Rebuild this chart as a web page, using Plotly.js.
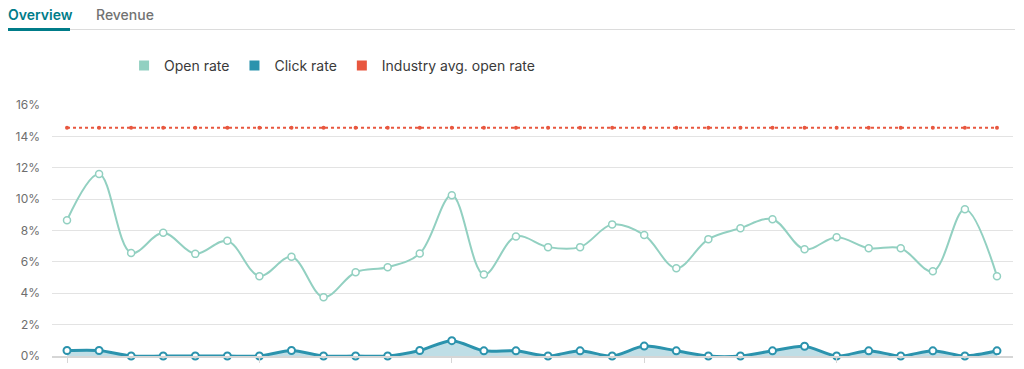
<!DOCTYPE html>
<html>
<head>
<meta charset="utf-8">
<script src="https://cdn.plot.ly/plotly-3.0.1.min.js"></script>
<style>
  html, body { margin: 0; padding: 0; background: #fff; width: 1024px; height: 369px; overflow: hidden; font-family: Inter, "Open Sans", sans-serif; }
  #chart { position: absolute; left: 0; top: 0; width: 1024px; height: 369px; }
  .tab { position: absolute; top: 6px; font-size: 14px; z-index: 5; }
  #tab1 { left: 8px; color: #007c89; font-weight: 600; }
  #tab2 { left: 96px; color: #727272; font-weight: 500; }
  #tabline { position: absolute; left: 8px; top: 29px; width: 1007px; height: 1px; background: #dcdcdc; z-index: 4; }
  #tabunder { position: absolute; left: 8px; top: 28px; width: 62px; height: 3px; background: #007c89; z-index: 5; }
</style>
</head>
<body>
<div id="chart"></div>
<div class="tab" id="tab1">Overview</div>
<div class="tab" id="tab2">Revenue</div>
<div id="tabline"></div>
<div id="tabunder"></div>
<script>
const campaigns = [1,2,3,4,5,6,7,8,9,10,11,12,13,14,15,16,17,18,19,20,21,22,23,24,25,26,27,28,29,30];
const openRate = [8.66,11.6,6.57,7.85,6.51,7.34,5.09,6.32,3.75,5.34,5.66,6.53,10.24,5.19,7.62,6.94,6.94,8.39,7.72,5.6,7.45,8.15,8.72,6.8,7.57,6.87,6.87,5.4,9.36,5.09];
const clickRate = [0.35,0.35,0,0,0,0,0,0.35,0,0,0,0.35,0.98,0.33,0.33,0,0.33,0,0.63,0.33,0,0,0.33,0.62,0,0.33,0,0.33,0,0.33];
const industryAvg = [14.55,14.55,14.55,14.55,14.55,14.55,14.55,14.55,14.55,14.55,14.55,14.55,14.55,14.55,14.55,14.55,14.55,14.55,14.55,14.55,14.55,14.55,14.55,14.55,14.55,14.55,14.55,14.55,14.55,14.55];
const seriesNames = ["Open rate", "Click rate", "Industry avg. open rate"];
const yTicks = [0,2,4,6,8,10,12,14,16];
const yTickText = ["0%","2%","4%","6%","8%","10%","12%","14%","16%"];
const xTickVals = [1,7,13,19,25];

const cOpen = "#92d0c1", cClick = "#2b93ad", cInd = "#e8573f";

const traces = [
  { x: campaigns, y: industryAvg, type: "scatter", mode: "lines+markers", name: seriesNames[2], showlegend: false,
    line: { color: cInd, width: 2, dash: "dot" }, marker: { color: cInd, size: 4 }, cliponaxis: false, hoverinfo: "skip" },
  { x: campaigns, y: openRate, type: "scatter", mode: "lines+markers", name: seriesNames[0], showlegend: false,
    line: { color: cOpen, width: 2, shape: "spline", smoothing: 1 },
    marker: { color: "#ffffff", size: 7, line: { color: cOpen, width: 1.5 } }, cliponaxis: false, hoverinfo: "skip" },
  { x: campaigns, y: clickRate, type: "scatter", mode: "lines+markers", name: seriesNames[1], showlegend: false,
    fill: "tozeroy", fillcolor: "rgba(43,147,173,0.3)",
    line: { color: cClick, width: 3, shape: "spline", smoothing: 0.8 },
    marker: { color: "#ffffff", size: 7, line: { color: cClick, width: 2 } }, cliponaxis: false, hoverinfo: "skip" },
  { x: [null], y: [null], type: "scatter", mode: "markers", name: seriesNames[0], marker: { symbol: "square", size: 10, color: cOpen } },
  { x: [null], y: [null], type: "scatter", mode: "markers", name: seriesNames[1], marker: { symbol: "square", size: 10, color: cClick } },
  { x: [null], y: [null], type: "scatter", mode: "markers", name: seriesNames[2], marker: { symbol: "square", size: 10, color: cInd } }
];

const layout = {
  width: 1024, height: 369,
  margin: { l: 52, r: 11, t: 105, b: 13.3 },
  paper_bgcolor: "#ffffff", plot_bgcolor: "#ffffff",
  font: { family: "Inter, 'Open Sans', sans-serif", color: "#333" },
  showlegend: true,
  legend: { orientation: "h", x: 0.075, xanchor: "left", y: 1.156, yanchor: "middle",
    font: { size: 14, color: "#3a3a3a" }, itemclick: false, bgcolor: "rgba(0,0,0,0)" },
  xaxis: { range: [0.532, 30.5], tickvals: xTickVals, showticklabels: false, ticks: "outside", ticklen: 5, tickcolor: "#d6d6d6",
    showgrid: false, zeroline: false, showline: true, linecolor: "#d6d6d6", linewidth: 2, fixedrange: true },
  yaxis: { range: [0, 16], tickvals: yTicks, ticktext: yTickText, showgrid: true, gridcolor: "#e3e3e3", gridwidth: 1,
    zeroline: false, showline: false, ticks: "", ticklabelstandoff: 11, tickfont: { size: 12, color: "#6e6e6e" }, fixedrange: true }
};

Plotly.newPlot("chart", traces, layout, { displayModeBar: false, staticPlot: true });
</script>
</body>
</html>
